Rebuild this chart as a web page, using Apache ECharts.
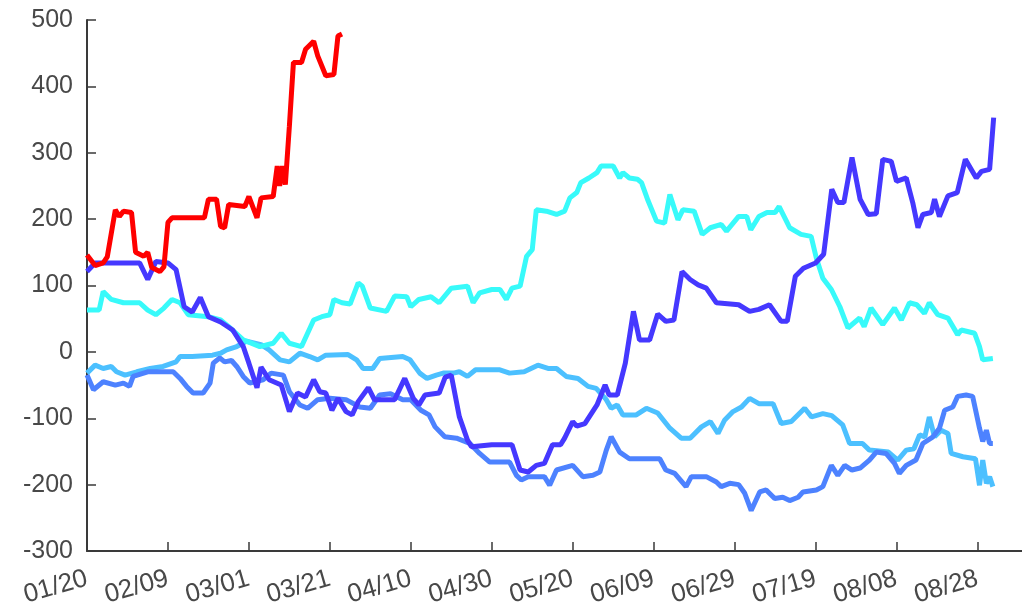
<!DOCTYPE html>
<html>
<head>
<meta charset="utf-8">
<script src="https://cdn.jsdelivr.net/npm/echarts@6/dist/echarts.min.js"></script>
<style>
  html, body { margin: 0; padding: 0; background: #fff; }
  #main { width: 1022px; height: 614px; }
</style>
</head>
<body>
<div id="main"></div>
<script>
// x = days after 01/20, y = value
var redData = [[0,146],[2,130],[4,134],[5,143],[7,214],[8,204],[9,212],[11,210],[12,150],[14,144],[15,150],[16,127],[18,121],[19,128],[20,195],[21,202],[29,202],[30,230],[32,230],[33,189],[34,187],[35,222],[39,219],[40,234],[42,202],[43,232],[46,234],[47,280],[47.6,250],[48.3,280],[49,252],[50,340],[51,436],[53,436],[54,456],[56,468],[57,446],[59,416],[61,418],[62,476],[63,479]]

var darkBlueData = [[0,121],[2,134],[13,134],[15,109],[17,136],[20,134],[22,124],[24,68],[26,60],[28,82],[30,53],[33,45],[36,33],[38.6,8],[40,-17],[42,-54],[43,-23],[45,-42],[48,-50],[50,-90],[52,-62],[54,-68],[56,-42],[57.5,-60],[59,-62],[60.5,-88],[62,-70],[64,-90],[65.5,-95],[67,-75],[69.5,-54],[71,-72],[76,-72],[78.5,-40],[80.6,-70],[82,-80],[83.5,-65],[87,-62],[88.5,-38],[90,-35],[92,-98],[94,-133],[95,-143],[100,-140],[105,-140],[107,-178],[109,-181],[111,-171],[113,-168],[115,-140],[117,-140],[118,-130],[120,-105],[121,-112],[123,-108],[126,-80],[128,-50],[129,-65],[131,-65],[133,-17],[135,61],[136.5,18],[139,18],[141,57],[143,46],[145,48],[147,121],[149,109],[151,101],[153,96],[155.5,74],[161,71],[163.7,61],[166,64],[168.6,71],[171.5,46],[173,46],[175,114],[177,126],[180,134],[182,147],[184,245],[185.5,225],[187,225],[189,293],[191,230],[193,207],[195,208],[196.6,290],[198.7,287],[200,257],[202.4,262],[204,225],[205.3,187],[206.5,207],[208.6,210],[209.4,230],[210.6,204],[212.7,235],[215,240],[217,290],[219.7,262],[221,272],[223,275],[224,353]]

var cyanData = [[0,63],[3,63],[4,91],[6,79],[9,74],[13,74],[15,63],[17,56],[19,66],[21,79],[23,74],[25,56],[30,53],[33,48],[35,38],[38.6,18],[42.7,8],[46,13],[48,28],[50,13],[53,8],[56,48],[58,53],[60,56],[61,79],[63,74],[65,72],[67,104],[68,99],[70,66],[74,61],[76,84],[79,83],[80,68],[82,79],[85,83],[87,74],[90,96],[94,99],[95.4,74],[97,89],[100,94],[102,94],[103.6,79],[105,96],[107,99],[108.6,144],[110,154],[111,214],[113.5,212],[116,207],[118,212],[119.3,232],[121,240],[122,255],[124,262],[126,270],[127,280],[130,280],[131.6,262],[132.4,270],[134,262],[136,260],[137,255],[138.6,228],[140.7,197],[142.7,194],[144,237],[146,199],[147.2,214],[150,212],[152,177],[154,187],[156.7,192],[158,182],[161,204],[163,204],[164,184],[166,204],[168,210],[170,210],[171,219],[172.8,197],[173.6,187],[176.4,177],[178.9,174],[180.2,141],[181.8,111],[183.9,94],[186,68],[188,36],[190.9,51],[192,38],[193.7,66],[196.6,41],[199.5,66],[201.2,48],[203.2,74],[205,71],[206.9,58],[208.1,74],[210.2,56],[212.7,51],[215.1,26],[216,33],[219.3,28],[220.5,8],[221.3,-12],[223.8,-10]]

var skyBlueData = [[0,-32],[2,-20],[4,-25],[6,-22],[7.3,-30],[9.4,-35],[12.3,-30],[15.6,-25],[18.8,-22],[22,-15],[23,-7],[26,-7],[31,-5],[33,-2],[34.5,3],[37,8],[39.4,16],[43,11],[45,3],[47.7,-12],[50,-15],[52.6,-2],[55,-7],[57,-12],[59,-5],[64.5,-4],[66.6,-12],[68.2,-25],[70.6,-25],[72.3,-10],[78,-7],[79.8,-12],[82.2,-32],[84,-40],[86.3,-35],[88,-32],[90.5,-32],[92,-30],[94,-37],[96,-27],[102,-27],[104.4,-32],[108,-30],[111.4,-20],[113.9,-25],[116,-25],[118.4,-37],[121.3,-40],[123.8,-52],[125.8,-55],[128.3,-72],[129.5,-85],[131,-80],[132.4,-95],[135.7,-95],[138.2,-85],[141,-92],[144,-115],[146.8,-130],[149,-130],[151.8,-113],[154,-105],[155.9,-123],[157.5,-103],[159.6,-90],[161.7,-83],[163.7,-70],[166,-78],[169.5,-78],[171.5,-108],[174,-105],[177.3,-85],[179,-98],[181.8,-93],[184,-96],[186.7,-110],[188.4,-138],[191.6,-138],[193.3,-148],[198,-151],[200.3,-163],[202.4,-148],[204.3,-146],[205.7,-125],[207,-128],[208.1,-98],[209.4,-128],[211,-118],[212.7,-123],[213.5,-153],[216.4,-158],[219.5,-161],[220.5,-201],[221.3,-163],[222.2,-198],[223,-188],[223.8,-203]]

var midBlueData = [[0,-35],[1.6,-57],[4,-45],[7,-50],[9,-47],[10.5,-52],[11.4,-37],[15,-30],[21.3,-30],[23,-40],[24.6,-52],[26.2,-62],[28.7,-62],[30.4,-47],[31.2,-17],[32.8,-9],[34,-15],[35.7,-13],[37,-22],[38.6,-37],[40.2,-47],[43.5,-42],[45.5,-32],[48.5,-35],[50,-60],[52.6,-80],[54.5,-85],[57,-72],[60,-70],[64,-72],[67.4,-83],[70,-85],[72.3,-65],[75,-63],[78,-72],[80,-72],[82.5,-88],[84.5,-95],[86,-113],[88.4,-128],[91.3,-130],[94.6,-138],[97,-153],[99.5,-166],[104.4,-166],[106.1,-186],[107.3,-193],[109,-188],[113,-188],[114.3,-201],[116,-178],[120,-171],[122.5,-188],[125,-186],[126.7,-181],[128.3,-148],[129.5,-128],[131.6,-151],[134,-161],[141.5,-161],[143,-178],[145.2,-183],[148,-203],[149.3,-188],[153,-188],[155.5,-196],[156.7,-203],[158.8,-198],[161,-200],[162.5,-213],[164.1,-239],[166.2,-211],[167.8,-208],[169.9,-221],[171.9,-219],[173.6,-224],[175.7,-219],[176.9,-211],[180.2,-208],[181.8,-203],[183.9,-171],[185.5,-186],[187.2,-171],[189,-178],[191,-175],[193.3,-163],[195,-151],[197.4,-153],[199.5,-168],[200.7,-183],[202.4,-171],[204.8,-163],[206.5,-138],[209,-128],[210.6,-115],[211.9,-88],[213.9,-83],[215.1,-67],[217.2,-65],[218.8,-67],[220.5,-115],[221.3,-135],[222.2,-118],[223,-138],[223.8,-138]]

var yTicks = { min: -300, max: 500, step: 100 }
var xTicks = { min: 0, max: 231, step: 20 }

function dayLabel(d) {
  var t = new Date(2021, 0, 20 + d)
  var m = t.getMonth() + 1, dd = t.getDate()
  return (m < 10 ? '0' + m : m) + '/' + (dd < 10 ? '0' + dd : dd)
}

function line(data, color) {
  return {
    type: 'line',
    data: data,
    showSymbol: false,
    smooth: false,
    lineStyle: { color: color, width: 5 },
    itemStyle: { color: color },
    animation: false
  }
}

var chart = echarts.init(document.getElementById('main'))
chart.setOption({
  backgroundColor: '#fff',
  animation: false,
  grid: { left: 87, right: 0, top: 20, bottom: 63 },
  xAxis: {
    type: 'value',
    min: xTicks.min,
    max: xTicks.max,
    interval: xTicks.step,
    axisLine: { onZero: false, lineStyle: { color: '#3a3a3a', width: 2 } },
    axisTick: { inside: true, length: 9, lineStyle: { color: '#3a3a3a', width: 1.5 } },
    splitLine: { show: false },
    axisLabel: {
      formatter: dayLabel,
      rotate: 16,
      margin: 27,
      showMaxLabel: false,
      color: '#484848',
      fontSize: 26,
      fontFamily: 'Liberation Sans, Arial, sans-serif'
    }
  },
  yAxis: {
    type: 'value',
    min: yTicks.min,
    max: yTicks.max,
    interval: yTicks.step,
    axisLine: { show: true, lineStyle: { color: '#3a3a3a', width: 2 } },
    axisTick: { show: true, inside: true, length: 9, lineStyle: { color: '#3a3a3a', width: 1.5 } },
    splitLine: { show: false },
    axisLabel: {
      margin: 14,
      color: '#484848',
      fontSize: 25,
      fontFamily: 'Liberation Sans, Arial, sans-serif'
    }
  },
  series: [
    line(skyBlueData, '#4cc0ff'),
    line(midBlueData, '#4d82ff'),
    line(cyanData, '#38fafa'),
    line(darkBlueData, '#4538ff'),
    line(redData, '#ff0000')
  ]
})
</script>
</body>
</html>
